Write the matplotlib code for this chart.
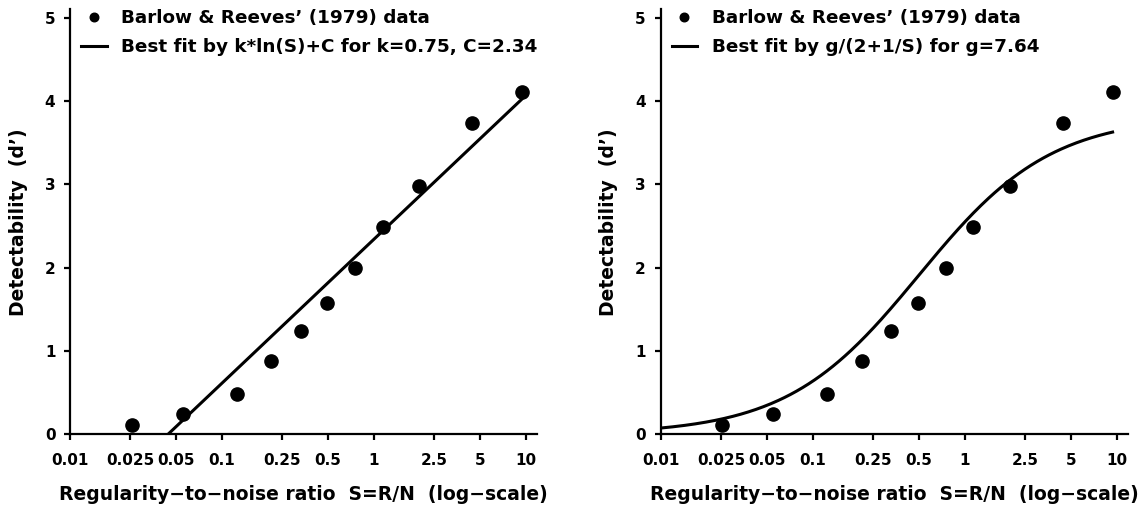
import numpy as np
import matplotlib
matplotlib.use("Agg")
import matplotlib.pyplot as plt
from matplotlib.ticker import FixedLocator, FixedFormatter, NullLocator

plt.rcParams['font.family'] = ['DejaVu Sans']
plt.rcParams['font.weight'] = 'bold'

# Data (Barlow & Reeves 1979)
snr = [0.0254, 0.0551, 0.125, 0.210, 0.330, 0.493, 0.75, 1.14, 1.98, 4.42, 9.38]
dprime = [0.11, 0.24, 0.48, 0.88, 1.24, 1.58, 1.99, 2.49, 2.98, 3.74, 4.11]

# Fit parameters
k_log, C_log = 0.75, 2.34
g_fit = 7.64

xticks = [0.01, 0.025, 0.05, 0.1, 0.25, 0.5, 1, 2.5, 5, 10]
xticklabels = ['0.01', '0.025', '0.05', '0.1', '0.25', '0.5', '1', '2.5', '5', '10']
yticks = [0, 1, 2, 3, 4, 5]

data_label = "Barlow & Reeves\u2019 (1979) data"
fit_labels = ["Best fit by k*ln(S)+C for k=0.75, C=2.34",
              "Best fit by g/(2+1/S) for g=7.64"]
xlabel = "Regularity\u2212to\u2212noise ratio  S=R/N  (log\u2212scale)"
ylabel = "Detectability  (d\u2019)"

W, H = 1145, 508
fig = plt.figure(figsize=(W / 100, H / 100), dpi=100)

axes_px = [(70, 537.3), (660.5, 1128.3)]
bottom_px, top_px = 434.3, 9.3

smax = max(snr)
s_start_log = np.exp(-C_log / k_log)
ranges = [np.geomspace(s_start_log, smax, 300), np.geomspace(0.01, smax, 300)]

for i, (x0, x1) in enumerate(axes_px):
    ax = fig.add_axes([x0 / W, 1 - bottom_px / H, (x1 - x0) / W, (bottom_px - top_px) / H])
    ax.set_xscale('log')
    ax.set_xlim(0.01, 11.9)
    ax.set_ylim(0, 5.1)
    for sp in ['top', 'right']:
        ax.spines[sp].set_visible(False)
    for sp in ['left', 'bottom']:
        ax.spines[sp].set_linewidth(1.6)
    ax.xaxis.set_major_locator(FixedLocator(xticks))
    ax.xaxis.set_major_formatter(FixedFormatter(xticklabels))
    ax.xaxis.set_minor_locator(NullLocator())
    ax.set_yticks(yticks)
    ax.tick_params(axis='both', direction='out', length=4.5, width=1.6, labelsize=11, pad=6)
    ax.tick_params(axis='x', pad=9)
    for lab in ax.get_xticklabels() + ax.get_yticklabels():
        lab.set_fontweight('bold')

    ax.plot(snr, dprime, 'o', color='black', markersize=9.5, label=data_label, clip_on=False, zorder=3)
    s = ranges[i]
    if i == 0:
        y = k_log * np.log(s) + C_log
    else:
        y = g_fit / (2 + 1 / s)
    ax.plot(s, y, '-', color='black', linewidth=2.2, label=fit_labels[i], zorder=2)

    ax.set_xlabel(xlabel, fontsize=13.5, fontweight='bold', labelpad=12)
    ax.set_ylabel(ylabel, fontsize=13.5, fontweight='bold', labelpad=12)

    ax.legend(loc='upper left', bbox_to_anchor=(0.008, 1.018), frameon=False,
              fontsize=13.2, handlelength=1.4, handletextpad=0.8, labelspacing=0.62,
              markerscale=0.65, borderaxespad=0)

fig.savefig('out.png', dpi=100)
